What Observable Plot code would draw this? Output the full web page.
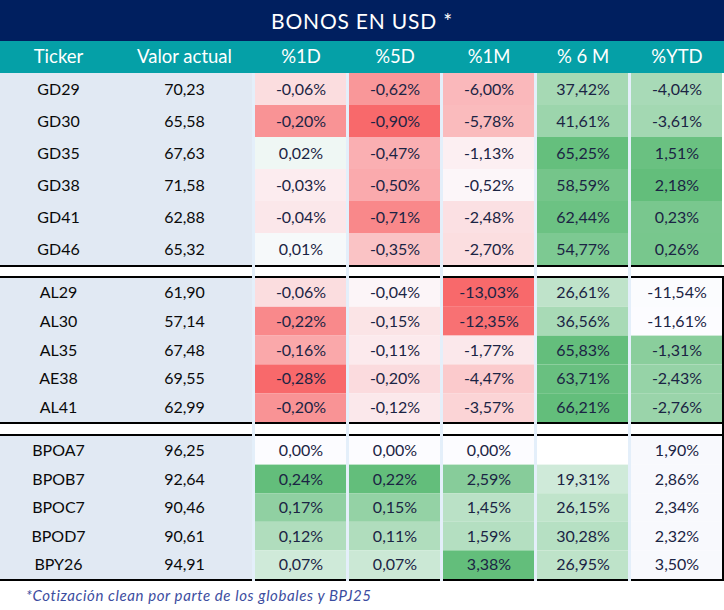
<!DOCTYPE html>
<html><head><meta charset="utf-8">
<script src="https://cdn.jsdelivr.net/npm/d3@7"></script>
<script src="https://cdn.jsdelivr.net/npm/@observablehq/plot@0.6"></script>
<style>
body{margin:0;background:#fff;font-family:Lato,sans-serif;}
#title{width:724px;height:41px;background:#001F5F;color:#fff;font-size:21px;line-height:41px;text-align:center;letter-spacing:0.8px;}
#chart svg{display:block}
#note{width:724px;height:28px;padding-left:26px;font-style:italic;font-size:15px;color:#3C4DA0;line-height:26px;box-sizing:border-box;letter-spacing:0.6px;}
</style></head><body>
<div id="title">BONOS EN USD *</div>
<div id="chart"></div>
<div id="note">*Cotización clean por parte de los globales y BPJ25</div>
<script>
// ---- data ----
const columns = ["Ticker", "Valor actual", "%1D", "%5D", "%1M", "% 6 M", "%YTD"];
const tickers = ["GD29","GD30","GD35","GD38","GD41","GD46","AL29","AL30","AL35","AE38","AL41","BPOA7","BPOB7","BPOC7","BPOD7","BPY26"];
const groups  = [1,1,1,1,1,1,2,2,2,2,2,3,3,3,3,3];
const valor   = [70.23,65.58,67.63,71.58,62.88,65.32,61.90,57.14,67.48,69.55,62.99,96.25,92.64,90.46,90.61,94.91];
const pct1D   = [-0.06,-0.20,0.02,-0.03,-0.04,0.01,-0.06,-0.22,-0.16,-0.28,-0.20,0.00,0.24,0.17,0.12,0.07];
const pct5D   = [-0.62,-0.90,-0.47,-0.50,-0.71,-0.35,-0.04,-0.15,-0.11,-0.20,-0.12,0.00,0.22,0.15,0.11,0.07];
const pct1M   = [-6.00,-5.78,-1.13,-0.52,-2.48,-2.70,-13.03,-12.35,-1.77,-4.47,-3.57,0.00,2.59,1.45,1.59,3.38];
const pct6M   = [37.42,41.61,65.25,58.59,62.44,54.77,26.61,36.56,65.83,63.71,66.21,null,19.31,26.15,30.28,26.95];
const pctYTD  = [-4.04,-3.61,1.51,2.18,0.23,0.26,-11.54,-11.61,-1.31,-2.43,-2.76,1.90,2.86,2.34,2.32,3.50];

// ---- layout (pixels inside the svg) ----
const W = 724, H = 541;
const HEADER_H = 32;
const groupLayout = {1: {top: 32, rowH: 32}, 2: {top: 237, rowH: 28.8}, 3: {top: 395, rowH: 28.6}};
const ruleTops = [224, 235, 381, 393, 538];
const colX1 = [0, 116, 255, 349, 443, 537, 631];
const colX2 = [116, 252, 346, 440, 534, 628, 722];
const colMid = colX1.map((x, i) => (x + colX2[i]) / 2);

const fmt = v => v.toFixed(2).replace(".", ",");
const rowIndexInGroup = tickers.map((t, i) => groups.slice(0, i).filter(g => g === groups[i]).length);
const rowTop = i => groupLayout[groups[i]].top + rowIndexInGroup[i] * groupLayout[groups[i]].rowH;
const rowBot = i => rowTop(i) + groupLayout[groups[i]].rowH;

// normalisation of each column onto [-1, 1] (red - white - green)
function diverging(vals) {
  const mn = d3.min(vals), mx = d3.max(vals);
  return v => v < 0 ? v / Math.abs(mn) : v / mx;
}
function fromZero(vals) {
  const mx = d3.max(vals.filter(v => v != null));
  return v => v / mx;
}
function fromMin(vals) {
  const mn = d3.min(vals), mx = d3.max(vals);
  return v => (v - mn) / (mx - mn);
}
const ytdFormatted = pctYTD.filter((v, i) => groups[i] !== 3);
const metrics = [
  {vals: pct1D, norm: diverging(pct1D)},
  {vals: pct5D, norm: diverging(pct5D)},
  {vals: pct1M, norm: diverging(pct1M)},
  {vals: pct6M, norm: fromZero(pct6M)},
  {vals: pctYTD, norm: fromMin(ytdFormatted), skipGroup: 3}
];

const cells = [], plainCells = [];
metrics.forEach((m, k) => {
  const c = k + 2;
  m.vals.forEach((v, i) => {
    const cell = {x1: colX1[c], x2: colX2[c], y1: rowTop(i), y2: rowBot(i),
      cx: colMid[c], cy: (rowTop(i) + rowBot(i)) / 2,
      label: v == null ? "" : fmt(v) + "%",
      t: v == null ? null : m.norm(v)};
    if (m.skipGroup === groups[i]) plainCells.push(cell); else cells.push(cell);
  });
});
const allCells = cells.concat(plainCells);

const rowsInfo = tickers.map((t, i) => ({ticker: t, valor: fmt(valor[i]), cy: (rowTop(i) + rowBot(i)) / 2}));
const groupBands = [1, 2, 3].map(g => {
  const idx = tickers.map((t, i) => i).filter(i => groups[i] === g);
  return {y1: rowTop(idx[0]), y2: rowBot(idx[idx.length - 1])};
});
const seps = colX2.slice(1, 6).map(x => ({x1: x, x2: x + 3}));

const chart = Plot.plot({
  width: W, height: H, margin: 0,
  x: {domain: [0, W], range: [0, W], axis: null},
  y: {domain: [0, H], range: [0, H], axis: null},
  color: {type: "linear", domain: [-1, 0, 1], range: ["#F8696B", "#FCFCFF", "#63BE7B"]},
  style: {fontFamily: "Lato, sans-serif", background: "white"},
  marks: [
    // header band
    Plot.rect([0], {x1: 0, x2: W, y1: 0, y2: HEADER_H, fill: "#05A0A7"}),
    Plot.text(columns, {x: (d, i) => colMid[i], y: HEADER_H / 2, text: d => d, fill: "white", fontSize: 18.5, letterSpacing: 0.3}),
    // ticker/value background
    Plot.rect(groupBands, {x1: colX1[0], x2: colX2[1], y1: "y1", y2: "y2", fill: "#E1E9F3"}),
    // heat cells
    Plot.rect(cells.filter(d => d.t != null), {x1: "x1", x2: "x2", y1: "y1", y2: "y2", fill: "t"}),
    Plot.rect(plainCells, {x1: "x1", x2: "x2", y1: "y1", y2: "y2", fill: "#F8F9FD"}),
    // rules
    Plot.rect(ruleTops, {x1: 0, x2: W, y1: d => d, y2: d => d + 2, fill: "black"}),
    Plot.rect([0], {x1: W - 2, x2: W, y1: ruleTops[1], y2: ruleTops[4] + 2, fill: "black"}),
    // column separators
    Plot.rect(seps, {x1: "x1", x2: "x2", y1: HEADER_H, y2: ruleTops[4] + 2, fill: "#E4EFFA"}),
    // texts
    Plot.text(rowsInfo, {x: colMid[0], y: "cy", text: "ticker", fill: "#0A0A0A", fontSize: 16}),
    Plot.text(rowsInfo, {x: colMid[1], y: "cy", text: "valor", fill: "#0A0A0A", fontSize: 16}),
    Plot.text(allCells, {x: "cx", y: "cy", text: "label", fill: "#1B2444", fontSize: 16})
  ]
});
document.getElementById("chart").appendChild(chart);
</script>
</body></html>
